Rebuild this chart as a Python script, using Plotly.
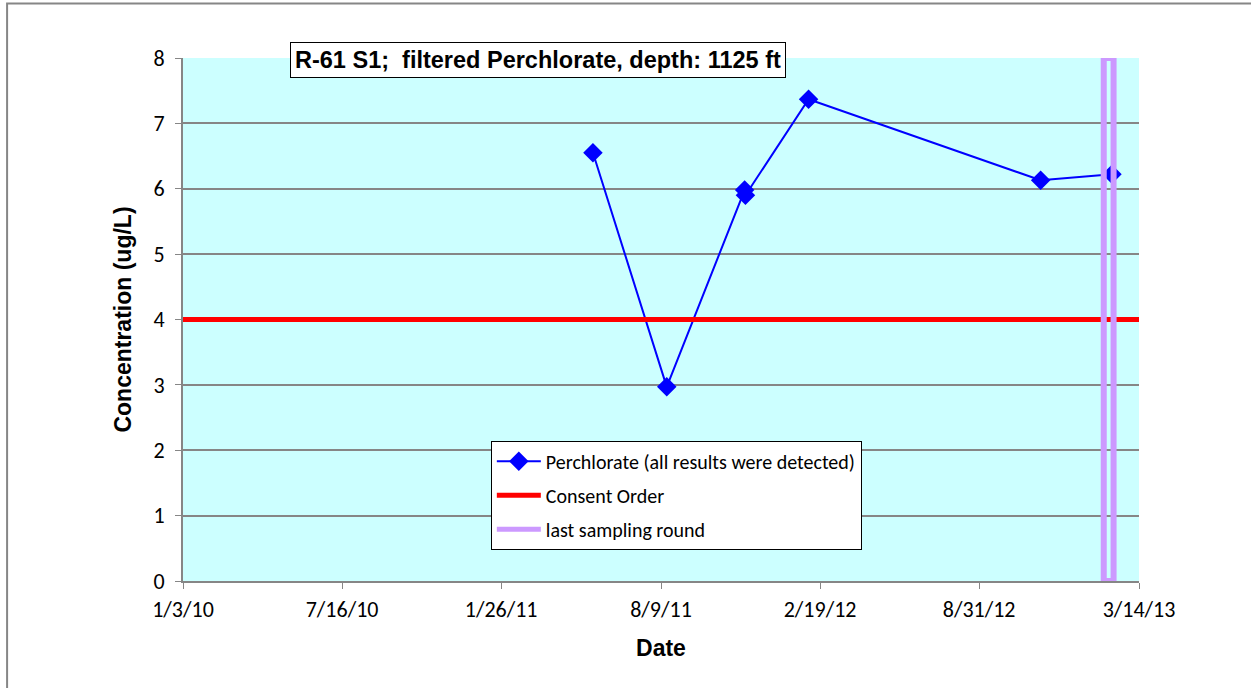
import plotly.graph_objects as go
import pandas as pd

# Data
dates = ["2011-05-18", "2011-08-16", "2011-11-19", "2011-11-20", "2012-02-05", "2012-11-14", "2013-02-09"]
conc = [6.55, 2.97, 5.98, 5.90, 7.37, 6.13, 6.22]
consent_dates = ["2010-01-03", "2013-03-14"]
consent_level = [4, 4]
last_round_date = "2013-02-05"
y_range = [0, 8]
x_tickvals = ["2010-01-03", "2010-07-16", "2011-01-26", "2011-08-09", "2012-02-19", "2012-08-31", "2013-03-14"]
x_ticktext = ["1/3/10", "7/16/10", "1/26/11", "8/9/11", "2/19/12", "8/31/12", "3/14/13"]
title_text = "R-61 S1;  filtered Perchlorate, depth: 1125 ft"

# style: half-width of the hollow "last sampling round" bar (in days)
bar_half = pd.Timedelta(days=6)

fig = go.Figure()

fig.add_trace(go.Scatter(
    x=dates, y=conc, mode="lines+markers", name="Perchlorate (all results were detected)",
    legendgroup="a",
    line=dict(color="#0000FF", width=2),
    marker=dict(symbol="diamond", size=15, color="#0000FF")))
fig.add_trace(go.Scatter(
    x=consent_dates, y=consent_level, mode="lines", name="Consent Order",
    legendgroup="b",
    line=dict(color="#FF0000", width=5)))
fig.add_trace(go.Scatter(
    x=[None], y=[None], mode="lines", name="last sampling round",
    legendgroup="c",
    line=dict(color="#CC99FF", width=5)))

lr = pd.Timestamp(last_round_date)
fig.add_shape(type="rect", xref="x", yref="y",
              x0=lr - bar_half, x1=lr + bar_half, y0=y_range[0], y1=y_range[1],
              line=dict(color="#CC99FF", width=6), fillcolor="rgba(0,0,0,0)", layer="above")

fig.add_annotation(
    text="<b>" + title_text + "</b>", xref="paper", yref="paper",
    x=0.371, y=0.997, xanchor="center", yanchor="middle", showarrow=False,
    font=dict(family="Liberation Sans, Arial", size=23.5, color="black"),
    bgcolor="white", bordercolor="black", borderwidth=1, borderpad=4)

fig.add_shape(type="rect", xref="paper", yref="paper",
              x0=-0.184, x1=1.2, y0=-0.3, y1=1.104,
              line=dict(color="#868686", width=2), fillcolor="rgba(0,0,0,0)", layer="below")

fig.update_layout(
    width=1251, height=688,
    margin=dict(l=183, r=112, t=58, b=107),
    paper_bgcolor="white", plot_bgcolor="#CCFFFF",
    font=dict(family="Carlito, Open Sans, Liberation Sans", size=22, color="black"),
    legend=dict(x=0.322, y=0.268, xanchor="left", yanchor="top",
                bgcolor="white", bordercolor="black", borderwidth=1,
                font=dict(size=20), itemwidth=44, tracegroupgap=5, traceorder="grouped"),
    xaxis=dict(type="date", range=["2010-01-03", "2013-03-14"],
               tickvals=x_tickvals, ticktext=x_ticktext,
               showgrid=False, showline=True, linecolor="#868686", linewidth=2,
               ticks="outside", ticklen=6, tickcolor="#868686", ticklabelstandoff=2,
               title=dict(text="<b>Date</b>", font=dict(family="Liberation Sans, Arial", size=23), standoff=17),
               zeroline=False),
    yaxis=dict(range=y_range, dtick=1, showgrid=True, gridcolor="#868686", gridwidth=1.5,
               showline=True, linecolor="#868686", linewidth=2,
               ticks="outside", ticklen=6, tickcolor="#868686", ticklabelstandoff=6,
               title=dict(text="<b>Concentration (ug/L)</b>", font=dict(family="Liberation Sans, Arial", size=23), standoff=15),
               zeroline=False),
)

fig.write_html("out.html", config={"displayModeBar": False},
               post_script="document.body.style.margin='0';")
